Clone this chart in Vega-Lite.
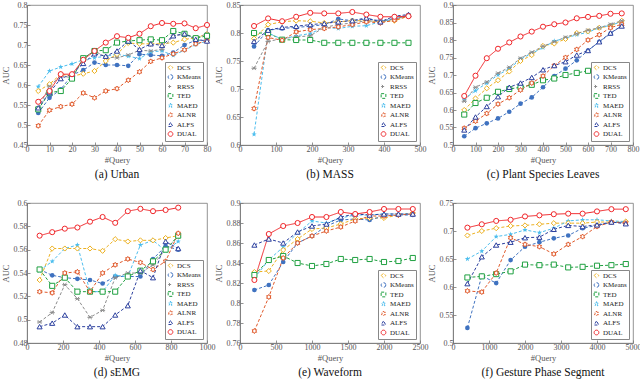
{
  "$schema": "https://vega.github.io/schema/vega-lite/v6.json",
  "padding": {"left": 0, "top": 0, "right": 0, "bottom": 0},
  "background": "white",
  "columns": 3,
  "bounds": "flush",
  "spacing": {"row": 58, "column": 33},
  "datasets": {
    "a": [
      {"m":"DCS","x":5,"y":0.585},{"m":"DCS","x":10,"y":0.602},{"m":"DCS","x":15,"y":0.627},{"m":"DCS","x":20,"y":0.622},{"m":"DCS","x":25,"y":0.628},{"m":"DCS","x":30,"y":0.635},{"m":"DCS","x":35,"y":0.66},{"m":"DCS","x":40,"y":0.677},{"m":"DCS","x":45,"y":0.705},{"m":"DCS","x":50,"y":0.703},{"m":"DCS","x":55,"y":0.703},{"m":"DCS","x":60,"y":0.703},{"m":"DCS","x":65,"y":0.706},{"m":"DCS","x":70,"y":0.714},{"m":"DCS","x":75,"y":0.718},{"m":"DCS","x":80,"y":0.727},
      {"m":"KMeans","x":5,"y":0.53},{"m":"KMeans","x":10,"y":0.568},{"m":"KMeans","x":15,"y":0.589},{"m":"KMeans","x":20,"y":0.625},{"m":"KMeans","x":25,"y":0.637},{"m":"KMeans","x":30,"y":0.656},{"m":"KMeans","x":35,"y":0.65},{"m":"KMeans","x":40,"y":0.65},{"m":"KMeans","x":45,"y":0.648},{"m":"KMeans","x":50,"y":0.677},{"m":"KMeans","x":55,"y":0.675},{"m":"KMeans","x":60,"y":0.673},{"m":"KMeans","x":65,"y":0.681},{"m":"KMeans","x":70,"y":0.7},{"m":"KMeans","x":75,"y":0.712},{"m":"KMeans","x":80,"y":0.712},
      {"m":"RRSS","x":5,"y":0.543},{"m":"RRSS","x":10,"y":0.597},{"m":"RRSS","x":15,"y":0.623},{"m":"RRSS","x":20,"y":0.618},{"m":"RRSS","x":25,"y":0.668},{"m":"RRSS","x":30,"y":0.685},{"m":"RRSS","x":35,"y":0.67},{"m":"RRSS","x":40,"y":0.668},{"m":"RRSS","x":45,"y":0.675},{"m":"RRSS","x":50,"y":0.687},{"m":"RRSS","x":55,"y":0.685},{"m":"RRSS","x":60,"y":0.689},{"m":"RRSS","x":65,"y":0.723},{"m":"RRSS","x":70,"y":0.727},{"m":"RRSS","x":75,"y":0.718},{"m":"RRSS","x":80,"y":0.728},
      {"m":"TED","x":5,"y":0.539},{"m":"TED","x":10,"y":0.581},{"m":"TED","x":15,"y":0.585},{"m":"TED","x":20,"y":0.616},{"m":"TED","x":25,"y":0.667},{"m":"TED","x":30,"y":0.685},{"m":"TED","x":35,"y":0.687},{"m":"TED","x":40,"y":0.706},{"m":"TED","x":45,"y":0.71},{"m":"TED","x":50,"y":0.712},{"m":"TED","x":55,"y":0.714},{"m":"TED","x":60,"y":0.712},{"m":"TED","x":65,"y":0.735},{"m":"TED","x":70,"y":0.728},{"m":"TED","x":75,"y":0.717},{"m":"TED","x":80,"y":0.723},
      {"m":"MAED","x":5,"y":0.596},{"m":"MAED","x":10,"y":0.635},{"m":"MAED","x":15,"y":0.645},{"m":"MAED","x":20,"y":0.653},{"m":"MAED","x":25,"y":0.663},{"m":"MAED","x":30,"y":0.668},{"m":"MAED","x":35,"y":0.672},{"m":"MAED","x":40,"y":0.677},{"m":"MAED","x":45,"y":0.672},{"m":"MAED","x":50,"y":0.666},{"m":"MAED","x":55,"y":0.683},{"m":"MAED","x":60,"y":0.685},{"m":"MAED","x":65,"y":0.674},{"m":"MAED","x":70,"y":0.687},{"m":"MAED","x":75,"y":0.701},{"m":"MAED","x":80,"y":0.71},
      {"m":"ALNR","x":5,"y":0.498},{"m":"ALNR","x":10,"y":0.537},{"m":"ALNR","x":15,"y":0.546},{"m":"ALNR","x":20,"y":0.552},{"m":"ALNR","x":25,"y":0.58},{"m":"ALNR","x":30,"y":0.568},{"m":"ALNR","x":35,"y":0.585},{"m":"ALNR","x":40,"y":0.591},{"m":"ALNR","x":45,"y":0.612},{"m":"ALNR","x":50,"y":0.633},{"m":"ALNR","x":55,"y":0.659},{"m":"ALNR","x":60,"y":0.668},{"m":"ALNR","x":65,"y":0.678},{"m":"ALNR","x":70,"y":0.688},{"m":"ALNR","x":75,"y":0.703},{"m":"ALNR","x":80,"y":0.71},
      {"m":"ALFS","x":5,"y":0.543},{"m":"ALFS","x":10,"y":0.581},{"m":"ALFS","x":15,"y":0.616},{"m":"ALFS","x":20,"y":0.627},{"m":"ALFS","x":25,"y":0.654},{"m":"ALFS","x":30,"y":0.678},{"m":"ALFS","x":35,"y":0.672},{"m":"ALFS","x":40,"y":0.685},{"m":"ALFS","x":45,"y":0.71},{"m":"ALFS","x":50,"y":0.689},{"m":"ALFS","x":55,"y":0.703},{"m":"ALFS","x":60,"y":0.699},{"m":"ALFS","x":65,"y":0.723},{"m":"ALFS","x":70,"y":0.728},{"m":"ALFS","x":75,"y":0.714},{"m":"ALFS","x":80,"y":0.71},
      {"m":"DUAL","x":5,"y":0.558},{"m":"DUAL","x":10,"y":0.585},{"m":"DUAL","x":15,"y":0.627},{"m":"DUAL","x":20,"y":0.627},{"m":"DUAL","x":25,"y":0.663},{"m":"DUAL","x":30,"y":0.685},{"m":"DUAL","x":35,"y":0.706},{"m":"DUAL","x":40,"y":0.722},{"m":"DUAL","x":45,"y":0.718},{"m":"DUAL","x":50,"y":0.728},{"m":"DUAL","x":55,"y":0.747},{"m":"DUAL","x":60,"y":0.755},{"m":"DUAL","x":65,"y":0.753},{"m":"DUAL","x":70,"y":0.754},{"m":"DUAL","x":75,"y":0.742},{"m":"DUAL","x":80,"y":0.75}
    ],
    "b": [
      {"m":"DCS","x":39,"y":0.79},{"m":"DCS","x":78,"y":0.815},{"m":"DCS","x":117,"y":0.82},{"m":"DCS","x":156,"y":0.822},{"m":"DCS","x":195,"y":0.821},{"m":"DCS","x":234,"y":0.818},{"m":"DCS","x":273,"y":0.82},{"m":"DCS","x":312,"y":0.822},{"m":"DCS","x":351,"y":0.822},{"m":"DCS","x":390,"y":0.82},{"m":"DCS","x":429,"y":0.822},{"m":"DCS","x":468,"y":0.83},
      {"m":"KMeans","x":39,"y":0.776},{"m":"KMeans","x":78,"y":0.805},{"m":"KMeans","x":117,"y":0.808},{"m":"KMeans","x":156,"y":0.81},{"m":"KMeans","x":195,"y":0.812},{"m":"KMeans","x":234,"y":0.815},{"m":"KMeans","x":273,"y":0.825},{"m":"KMeans","x":312,"y":0.822},{"m":"KMeans","x":351,"y":0.825},{"m":"KMeans","x":390,"y":0.822},{"m":"KMeans","x":429,"y":0.825},{"m":"KMeans","x":468,"y":0.832},
      {"m":"RRSS","x":39,"y":0.737},{"m":"RRSS","x":78,"y":0.785},{"m":"RRSS","x":117,"y":0.79},{"m":"RRSS","x":156,"y":0.793},{"m":"RRSS","x":195,"y":0.795},{"m":"RRSS","x":234,"y":0.81},{"m":"RRSS","x":273,"y":0.815},{"m":"RRSS","x":312,"y":0.818},{"m":"RRSS","x":351,"y":0.822},{"m":"RRSS","x":390,"y":0.82},{"m":"RRSS","x":429,"y":0.825},{"m":"RRSS","x":468,"y":0.832},
      {"m":"TED","x":39,"y":0.8},{"m":"TED","x":78,"y":0.8},{"m":"TED","x":117,"y":0.788},{"m":"TED","x":156,"y":0.7875},{"m":"TED","x":195,"y":0.7875},{"m":"TED","x":234,"y":0.7825},{"m":"TED","x":273,"y":0.7825},{"m":"TED","x":312,"y":0.7825},{"m":"TED","x":351,"y":0.7825},{"m":"TED","x":390,"y":0.7825},{"m":"TED","x":429,"y":0.7825},{"m":"TED","x":468,"y":0.7825},
      {"m":"MAED","x":39,"y":0.619},{"m":"MAED","x":78,"y":0.8},{"m":"MAED","x":117,"y":0.789},{"m":"MAED","x":156,"y":0.795},{"m":"MAED","x":195,"y":0.799},{"m":"MAED","x":234,"y":0.81},{"m":"MAED","x":273,"y":0.808},{"m":"MAED","x":312,"y":0.812},{"m":"MAED","x":351,"y":0.813},{"m":"MAED","x":390,"y":0.82},{"m":"MAED","x":429,"y":0.825},{"m":"MAED","x":468,"y":0.832},
      {"m":"ALNR","x":39,"y":0.665},{"m":"ALNR","x":78,"y":0.792},{"m":"ALNR","x":117,"y":0.787},{"m":"ALNR","x":156,"y":0.802},{"m":"ALNR","x":195,"y":0.806},{"m":"ALNR","x":234,"y":0.808},{"m":"ALNR","x":273,"y":0.811},{"m":"ALNR","x":312,"y":0.815},{"m":"ALNR","x":351,"y":0.82},{"m":"ALNR","x":390,"y":0.818},{"m":"ALNR","x":429,"y":0.823},{"m":"ALNR","x":468,"y":0.83},
      {"m":"ALFS","x":39,"y":0.785},{"m":"ALFS","x":78,"y":0.805},{"m":"ALFS","x":117,"y":0.81},{"m":"ALFS","x":156,"y":0.812},{"m":"ALFS","x":195,"y":0.815},{"m":"ALFS","x":234,"y":0.817},{"m":"ALFS","x":273,"y":0.82},{"m":"ALFS","x":312,"y":0.822},{"m":"ALFS","x":351,"y":0.827},{"m":"ALFS","x":390,"y":0.82},{"m":"ALFS","x":429,"y":0.83},{"m":"ALFS","x":468,"y":0.833},
      {"m":"DUAL","x":39,"y":0.8125},{"m":"DUAL","x":78,"y":0.826},{"m":"DUAL","x":117,"y":0.821},{"m":"DUAL","x":156,"y":0.829},{"m":"DUAL","x":195,"y":0.836},{"m":"DUAL","x":234,"y":0.835},{"m":"DUAL","x":273,"y":0.835},{"m":"DUAL","x":312,"y":0.8375},{"m":"DUAL","x":351,"y":0.833},{"m":"DUAL","x":390,"y":0.829},{"m":"DUAL","x":429,"y":0.829},{"m":"DUAL","x":468,"y":0.83}
    ],
    "c": [
      {"m":"DCS","x":50,"y":0.6},{"m":"DCS","x":100,"y":0.633},{"m":"DCS","x":150,"y":0.662},{"m":"DCS","x":200,"y":0.685},{"m":"DCS","x":250,"y":0.71},{"m":"DCS","x":300,"y":0.74},{"m":"DCS","x":350,"y":0.757},{"m":"DCS","x":400,"y":0.783},{"m":"DCS","x":450,"y":0.79},{"m":"DCS","x":500,"y":0.803},{"m":"DCS","x":550,"y":0.82},{"m":"DCS","x":600,"y":0.825},{"m":"DCS","x":650,"y":0.835},{"m":"DCS","x":700,"y":0.84},{"m":"DCS","x":750,"y":0.855},
      {"m":"KMeans","x":50,"y":0.525},{"m":"KMeans","x":100,"y":0.548},{"m":"KMeans","x":150,"y":0.562},{"m":"KMeans","x":200,"y":0.576},{"m":"KMeans","x":250,"y":0.595},{"m":"KMeans","x":300,"y":0.618},{"m":"KMeans","x":350,"y":0.636},{"m":"KMeans","x":400,"y":0.665},{"m":"KMeans","x":450,"y":0.697},{"m":"KMeans","x":500,"y":0.718},{"m":"KMeans","x":550,"y":0.742},{"m":"KMeans","x":600,"y":0.77},{"m":"KMeans","x":650,"y":0.795},{"m":"KMeans","x":700,"y":0.818},{"m":"KMeans","x":750,"y":0.842},
      {"m":"RRSS","x":50,"y":0.625},{"m":"RRSS","x":100,"y":0.665},{"m":"RRSS","x":150,"y":0.68},{"m":"RRSS","x":200,"y":0.705},{"m":"RRSS","x":250,"y":0.722},{"m":"RRSS","x":300,"y":0.748},{"m":"RRSS","x":350,"y":0.765},{"m":"RRSS","x":400,"y":0.782},{"m":"RRSS","x":450,"y":0.795},{"m":"RRSS","x":500,"y":0.808},{"m":"RRSS","x":550,"y":0.818},{"m":"RRSS","x":600,"y":0.828},{"m":"RRSS","x":650,"y":0.835},{"m":"RRSS","x":700,"y":0.845},{"m":"RRSS","x":750,"y":0.855},
      {"m":"TED","x":50,"y":0.587},{"m":"TED","x":100,"y":0.62},{"m":"TED","x":150,"y":0.635},{"m":"TED","x":200,"y":0.652},{"m":"TED","x":250,"y":0.66},{"m":"TED","x":300,"y":0.665},{"m":"TED","x":350,"y":0.672},{"m":"TED","x":400,"y":0.685},{"m":"TED","x":450,"y":0.69},{"m":"TED","x":500,"y":0.7},{"m":"TED","x":550,"y":0.706},{"m":"TED","x":600,"y":0.712},{"m":"TED","x":650,"y":0.718},{"m":"TED","x":700,"y":0.723},{"m":"TED","x":750,"y":0.727},
      {"m":"MAED","x":50,"y":0.632},{"m":"MAED","x":100,"y":0.655},{"m":"MAED","x":150,"y":0.677},{"m":"MAED","x":200,"y":0.7},{"m":"MAED","x":250,"y":0.718},{"m":"MAED","x":300,"y":0.745},{"m":"MAED","x":350,"y":0.762},{"m":"MAED","x":400,"y":0.778},{"m":"MAED","x":450,"y":0.797},{"m":"MAED","x":500,"y":0.805},{"m":"MAED","x":550,"y":0.815},{"m":"MAED","x":600,"y":0.822},{"m":"MAED","x":650,"y":0.835},{"m":"MAED","x":700,"y":0.842},{"m":"MAED","x":750,"y":0.852},
      {"m":"ALNR","x":50,"y":0.548},{"m":"ALNR","x":100,"y":0.568},{"m":"ALNR","x":150,"y":0.59},{"m":"ALNR","x":200,"y":0.617},{"m":"ALNR","x":250,"y":0.635},{"m":"ALNR","x":300,"y":0.657},{"m":"ALNR","x":350,"y":0.677},{"m":"ALNR","x":400,"y":0.697},{"m":"ALNR","x":450,"y":0.727},{"m":"ALNR","x":500,"y":0.75},{"m":"ALNR","x":550,"y":0.773},{"m":"ALNR","x":600,"y":0.8},{"m":"ALNR","x":650,"y":0.815},{"m":"ALNR","x":700,"y":0.835},{"m":"ALNR","x":750,"y":0.845},
      {"m":"ALFS","x":50,"y":0.543},{"m":"ALFS","x":100,"y":0.58},{"m":"ALFS","x":150,"y":0.61},{"m":"ALFS","x":200,"y":0.638},{"m":"ALFS","x":250,"y":0.665},{"m":"ALFS","x":300,"y":0.677},{"m":"ALFS","x":350,"y":0.693},{"m":"ALFS","x":400,"y":0.715},{"m":"ALFS","x":450,"y":0.727},{"m":"ALFS","x":500,"y":0.738},{"m":"ALFS","x":550,"y":0.757},{"m":"ALFS","x":600,"y":0.77},{"m":"ALFS","x":650,"y":0.795},{"m":"ALFS","x":700,"y":0.82},{"m":"ALFS","x":750,"y":0.84},
      {"m":"DUAL","x":50,"y":0.64},{"m":"DUAL","x":100,"y":0.698},{"m":"DUAL","x":150,"y":0.748},{"m":"DUAL","x":200,"y":0.775},{"m":"DUAL","x":250,"y":0.793},{"m":"DUAL","x":300,"y":0.81},{"m":"DUAL","x":350,"y":0.824},{"m":"DUAL","x":400,"y":0.838},{"m":"DUAL","x":450,"y":0.845},{"m":"DUAL","x":500,"y":0.85},{"m":"DUAL","x":550,"y":0.862},{"m":"DUAL","x":600,"y":0.866},{"m":"DUAL","x":650,"y":0.869},{"m":"DUAL","x":700,"y":0.875},{"m":"DUAL","x":750,"y":0.876}
    ],
    "d": [
      {"m":"DCS","x":70,"y":0.534},{"m":"DCS","x":140,"y":0.561},{"m":"DCS","x":210,"y":0.561},{"m":"DCS","x":280,"y":0.561},{"m":"DCS","x":350,"y":0.561},{"m":"DCS","x":420,"y":0.559},{"m":"DCS","x":490,"y":0.569},{"m":"DCS","x":560,"y":0.567},{"m":"DCS","x":630,"y":0.568},{"m":"DCS","x":700,"y":0.568},{"m":"DCS","x":770,"y":0.57},{"m":"DCS","x":840,"y":0.572},
      {"m":"KMeans","x":70,"y":0.543},{"m":"KMeans","x":140,"y":0.538},{"m":"KMeans","x":210,"y":0.536},{"m":"KMeans","x":280,"y":0.535},{"m":"KMeans","x":350,"y":0.534},{"m":"KMeans","x":420,"y":0.531},{"m":"KMeans","x":490,"y":0.537},{"m":"KMeans","x":560,"y":0.537},{"m":"KMeans","x":630,"y":0.537},{"m":"KMeans","x":700,"y":0.552},{"m":"KMeans","x":770,"y":0.563},{"m":"KMeans","x":840,"y":0.56},
      {"m":"RRSS","x":70,"y":0.498},{"m":"RRSS","x":140,"y":0.506},{"m":"RRSS","x":210,"y":0.53},{"m":"RRSS","x":280,"y":0.518},{"m":"RRSS","x":350,"y":0.502},{"m":"RRSS","x":420,"y":0.508},{"m":"RRSS","x":490,"y":0.536},{"m":"RRSS","x":560,"y":0.54},{"m":"RRSS","x":630,"y":0.54},{"m":"RRSS","x":700,"y":0.547},{"m":"RRSS","x":770,"y":0.56},{"m":"RRSS","x":840,"y":0.571},
      {"m":"TED","x":70,"y":0.543},{"m":"TED","x":140,"y":0.529},{"m":"TED","x":210,"y":0.536},{"m":"TED","x":280,"y":0.524},{"m":"TED","x":350,"y":0.524},{"m":"TED","x":420,"y":0.524},{"m":"TED","x":490,"y":0.524},{"m":"TED","x":560,"y":0.537},{"m":"TED","x":630,"y":0.542},{"m":"TED","x":700,"y":0.55},{"m":"TED","x":770,"y":0.56},{"m":"TED","x":840,"y":0.572},
      {"m":"MAED","x":70,"y":0.542},{"m":"MAED","x":140,"y":0.55},{"m":"MAED","x":210,"y":0.561},{"m":"MAED","x":280,"y":0.564},{"m":"MAED","x":350,"y":0.524},{"m":"MAED","x":420,"y":0.524},{"m":"MAED","x":490,"y":0.538},{"m":"MAED","x":560,"y":0.537},{"m":"MAED","x":630,"y":0.564},{"m":"MAED","x":700,"y":0.568},{"m":"MAED","x":770,"y":0.559},{"m":"MAED","x":840,"y":0.567},
      {"m":"ALNR","x":70,"y":0.524},{"m":"ALNR","x":140,"y":0.523},{"m":"ALNR","x":210,"y":0.54},{"m":"ALNR","x":280,"y":0.541},{"m":"ALNR","x":350,"y":0.524},{"m":"ALNR","x":420,"y":0.54},{"m":"ALNR","x":490,"y":0.547},{"m":"ALNR","x":560,"y":0.552},{"m":"ALNR","x":630,"y":0.549},{"m":"ALNR","x":700,"y":0.543},{"m":"ALNR","x":770,"y":0.55},{"m":"ALNR","x":840,"y":0.574},
      {"m":"ALFS","x":70,"y":0.494},{"m":"ALFS","x":140,"y":0.497},{"m":"ALFS","x":210,"y":0.504},{"m":"ALFS","x":280,"y":0.494},{"m":"ALFS","x":350,"y":0.494},{"m":"ALFS","x":420,"y":0.494},{"m":"ALFS","x":490,"y":0.504},{"m":"ALFS","x":560,"y":0.512},{"m":"ALFS","x":630,"y":0.542},{"m":"ALFS","x":700,"y":0.536},{"m":"ALFS","x":770,"y":0.567},{"m":"ALFS","x":840,"y":0.561},
      {"m":"DUAL","x":70,"y":0.572},{"m":"DUAL","x":140,"y":0.575},{"m":"DUAL","x":210,"y":0.578},{"m":"DUAL","x":280,"y":0.579},{"m":"DUAL","x":350,"y":0.584},{"m":"DUAL","x":420,"y":0.588},{"m":"DUAL","x":490,"y":0.583},{"m":"DUAL","x":560,"y":0.593},{"m":"DUAL","x":630,"y":0.595},{"m":"DUAL","x":700,"y":0.593},{"m":"DUAL","x":770,"y":0.594},{"m":"DUAL","x":840,"y":0.596}
    ],
    "e": [
      {"m":"DCS","x":200,"y":0.831},{"m":"DCS","x":400,"y":0.832},{"m":"DCS","x":600,"y":0.853},{"m":"DCS","x":800,"y":0.864},{"m":"DCS","x":1000,"y":0.874},{"m":"DCS","x":1200,"y":0.875},{"m":"DCS","x":1400,"y":0.879},{"m":"DCS","x":1600,"y":0.884},{"m":"DCS","x":1800,"y":0.885},{"m":"DCS","x":2000,"y":0.885},{"m":"DCS","x":2200,"y":0.888},{"m":"DCS","x":2400,"y":0.89},
      {"m":"KMeans","x":200,"y":0.813},{"m":"KMeans","x":400,"y":0.818},{"m":"KMeans","x":600,"y":0.841},{"m":"KMeans","x":800,"y":0.86},{"m":"KMeans","x":1000,"y":0.867},{"m":"KMeans","x":1200,"y":0.877},{"m":"KMeans","x":1400,"y":0.883},{"m":"KMeans","x":1600,"y":0.884},{"m":"KMeans","x":1800,"y":0.883},{"m":"KMeans","x":2000,"y":0.887},{"m":"KMeans","x":2200,"y":0.888},{"m":"KMeans","x":2400,"y":0.888},
      {"m":"TED","x":200,"y":0.828},{"m":"TED","x":400,"y":0.843},{"m":"TED","x":600,"y":0.847},{"m":"TED","x":800,"y":0.84},{"m":"TED","x":1000,"y":0.837},{"m":"TED","x":1200,"y":0.839},{"m":"TED","x":1400,"y":0.844},{"m":"TED","x":1600,"y":0.843},{"m":"TED","x":1800,"y":0.844},{"m":"TED","x":2000,"y":0.841},{"m":"TED","x":2200,"y":0.842},{"m":"TED","x":2400,"y":0.845},
      {"m":"MAED","x":200,"y":0.825},{"m":"MAED","x":400,"y":0.843},{"m":"MAED","x":600,"y":0.856},{"m":"MAED","x":800,"y":0.87},{"m":"MAED","x":1000,"y":0.882},{"m":"MAED","x":1200,"y":0.88},{"m":"MAED","x":1400,"y":0.885},{"m":"MAED","x":1600,"y":0.888},{"m":"MAED","x":1800,"y":0.888},{"m":"MAED","x":2000,"y":0.889},{"m":"MAED","x":2200,"y":0.889},{"m":"MAED","x":2400,"y":0.889},
      {"m":"ALNR","x":200,"y":0.772},{"m":"ALNR","x":400,"y":0.806},{"m":"ALNR","x":600,"y":0.845},{"m":"ALNR","x":800,"y":0.86},{"m":"ALNR","x":1000,"y":0.867},{"m":"ALNR","x":1200,"y":0.872},{"m":"ALNR","x":1400,"y":0.876},{"m":"ALNR","x":1600,"y":0.882},{"m":"ALNR","x":1800,"y":0.887},{"m":"ALNR","x":2000,"y":0.887},{"m":"ALNR","x":2200,"y":0.888},{"m":"ALNR","x":2400,"y":0.889},
      {"m":"ALFS","x":200,"y":0.858},{"m":"ALFS","x":400,"y":0.864},{"m":"ALFS","x":600,"y":0.86},{"m":"ALFS","x":800,"y":0.871},{"m":"ALFS","x":1000,"y":0.877},{"m":"ALFS","x":1200,"y":0.879},{"m":"ALFS","x":1400,"y":0.886},{"m":"ALFS","x":1600,"y":0.889},{"m":"ALFS","x":1800,"y":0.888},{"m":"ALFS","x":2000,"y":0.889},{"m":"ALFS","x":2200,"y":0.889},{"m":"ALFS","x":2400,"y":0.889},
      {"m":"DUAL","x":200,"y":0.823},{"m":"DUAL","x":400,"y":0.869},{"m":"DUAL","x":600,"y":0.877},{"m":"DUAL","x":800,"y":0.88},{"m":"DUAL","x":1000,"y":0.886},{"m":"DUAL","x":1200,"y":0.886},{"m":"DUAL","x":1400,"y":0.891},{"m":"DUAL","x":1600,"y":0.889},{"m":"DUAL","x":1800,"y":0.891},{"m":"DUAL","x":2000,"y":0.894},{"m":"DUAL","x":2200,"y":0.894},{"m":"DUAL","x":2400,"y":0.894}
    ],
    "f": [
      {"m":"DCS","x":400,"y":0.692},{"m":"DCS","x":800,"y":0.7},{"m":"DCS","x":1200,"y":0.705},{"m":"DCS","x":1600,"y":0.709},{"m":"DCS","x":2000,"y":0.71},{"m":"DCS","x":2400,"y":0.712},{"m":"DCS","x":2800,"y":0.714},{"m":"DCS","x":3200,"y":0.714},{"m":"DCS","x":3600,"y":0.714},{"m":"DCS","x":4000,"y":0.716},{"m":"DCS","x":4400,"y":0.716},{"m":"DCS","x":4800,"y":0.717},
      {"m":"KMeans","x":400,"y":0.527},{"m":"KMeans","x":800,"y":0.62},{"m":"KMeans","x":1200,"y":0.607},{"m":"KMeans","x":1600,"y":0.648},{"m":"KMeans","x":2000,"y":0.672},{"m":"KMeans","x":2400,"y":0.68},{"m":"KMeans","x":2800,"y":0.687},{"m":"KMeans","x":3200,"y":0.692},{"m":"KMeans","x":3600,"y":0.705},{"m":"KMeans","x":4000,"y":0.71},{"m":"KMeans","x":4400,"y":0.715},{"m":"KMeans","x":4800,"y":0.716},
      {"m":"TED","x":400,"y":0.617},{"m":"TED","x":800,"y":0.619},{"m":"TED","x":1200,"y":0.623},{"m":"TED","x":1600,"y":0.628},{"m":"TED","x":2000,"y":0.64},{"m":"TED","x":2400,"y":0.639},{"m":"TED","x":2800,"y":0.64},{"m":"TED","x":3200,"y":0.635},{"m":"TED","x":3600,"y":0.636},{"m":"TED","x":4000,"y":0.638},{"m":"TED","x":4400,"y":0.639},{"m":"TED","x":4800,"y":0.641},
      {"m":"MAED","x":400,"y":0.65},{"m":"MAED","x":800,"y":0.664},{"m":"MAED","x":1200,"y":0.69},{"m":"MAED","x":1600,"y":0.694},{"m":"MAED","x":2000,"y":0.702},{"m":"MAED","x":2400,"y":0.697},{"m":"MAED","x":2800,"y":0.705},{"m":"MAED","x":3200,"y":0.718},{"m":"MAED","x":3600,"y":0.72},{"m":"MAED","x":4000,"y":0.72},{"m":"MAED","x":4400,"y":0.718},{"m":"MAED","x":4800,"y":0.717},
      {"m":"ALNR","x":400,"y":0.593},{"m":"ALNR","x":800,"y":0.591},{"m":"ALNR","x":1200,"y":0.625},{"m":"ALNR","x":1600,"y":0.688},{"m":"ALNR","x":2000,"y":0.676},{"m":"ALNR","x":2400,"y":0.672},{"m":"ALNR","x":2800,"y":0.659},{"m":"ALNR","x":3200,"y":0.676},{"m":"ALNR","x":3600,"y":0.69},{"m":"ALNR","x":4000,"y":0.708},{"m":"ALNR","x":4400,"y":0.716},{"m":"ALNR","x":4800,"y":0.714},
      {"m":"ALFS","x":400,"y":0.606},{"m":"ALFS","x":800,"y":0.654},{"m":"ALFS","x":1200,"y":0.675},{"m":"ALFS","x":1600,"y":0.68},{"m":"ALFS","x":2000,"y":0.688},{"m":"ALFS","x":2400,"y":0.689},{"m":"ALFS","x":2800,"y":0.703},{"m":"ALFS","x":3200,"y":0.71},{"m":"ALFS","x":3600,"y":0.708},{"m":"ALFS","x":4000,"y":0.711},{"m":"ALFS","x":4400,"y":0.716},{"m":"ALFS","x":4800,"y":0.713},
      {"m":"DUAL","x":400,"y":0.706},{"m":"DUAL","x":800,"y":0.712},{"m":"DUAL","x":1200,"y":0.718},{"m":"DUAL","x":1600,"y":0.72},{"m":"DUAL","x":2000,"y":0.726},{"m":"DUAL","x":2400,"y":0.728},{"m":"DUAL","x":2800,"y":0.73},{"m":"DUAL","x":3200,"y":0.731},{"m":"DUAL","x":3600,"y":0.731},{"m":"DUAL","x":4000,"y":0.735},{"m":"DUAL","x":4400,"y":0.739},{"m":"DUAL","x":4800,"y":0.739}
    ]
  },
  "concat": [
    {
      "width": 180, "height": 140,
      "data": {"name": "a"},
      "title": {"text": "(a) Urban"},
      "encoding": {
        "x": {"field": "x", "type": "quantitative", "title": "#Query", "scale": {"domain": [0, 80], "nice": false}, "axis": {"values": [0,10,20,30,40,50,60,70,80]}},
        "y": {"field": "y", "type": "quantitative", "title": "AUC", "scale": {"domain": [0.45, 0.8], "nice": false, "zero": false}, "axis": {"values": [0.45,0.5,0.55,0.6,0.65,0.7,0.75,0.8]}}
      },
      "layer": [
        {"mark": {"type": "line", "strokeWidth": 1},
         "encoding": {
           "color": {"field": "m", "type": "nominal", "title": null, "legend": {"orient": "bottom-right"}, "scale": {"domain": ["DCS","KMeans","RRSS","TED","MAED","ALNR","ALFS","DUAL"], "range": ["#EDB120","#3F72C0","#8C8C8C","#1FA040","#4DBEEE","#E0592A","#2B3F9E","#F0262A"]}},
           "strokeDash": {"field": "m", "type": "nominal", "legend": null, "scale": {"domain": ["DCS","KMeans","RRSS","TED","MAED","ALNR","ALFS","DUAL"], "range": [[3,2],[3,2],[3,2],[3,2],[3,2],[3,2],[3,2],[1,0]]}}
         }},
        {"transform": [{"filter": {"field": "m", "equal": "KMeans"}}],
         "mark": {"type": "point", "shape": "circle", "filled": true, "size": 22, "opacity": 1, "color": "#3F72C0"}},
        {"transform": [{"filter": {"field": "m", "equal": "MAED"}}],
         "mark": {"type": "point", "shape": "M0,-1L0.235,-0.324L0.951,-0.309L0.38,0.124L0.588,0.809L0,0.4L-0.588,0.809L-0.38,0.124L-0.951,-0.309L-0.235,-0.324Z", "filled": true, "size": 30, "opacity": 1, "color": "#4DBEEE"}},
        {"transform": [{"filter": {"not": {"field": "m", "oneOf": ["KMeans", "MAED"]}}}],
         "mark": {"type": "point", "strokeWidth": 1, "opacity": 1, "size": 26, "filled": false, "fill": "white"},
         "encoding": {
           "color": {"field": "m", "type": "nominal", "title": null, "legend": {"orient": "bottom-right"}},
           "shape": {"field": "m", "type": "nominal", "title": null, "legend": {"orient": "bottom-right"}, "scale": {"domain": ["DCS","KMeans","RRSS","TED","MAED","ALNR","ALFS","DUAL"], "range": ["diamond","circle","M-0.7,-0.7L0.7,0.7M-0.7,0.7L0.7,-0.7M-1,0L1,0","square","M0,-1L0.235,-0.324L0.951,-0.309L0.38,0.124L0.588,0.809L0,0.4L-0.588,0.809L-0.38,0.124L-0.951,-0.309L-0.235,-0.324Z","M0,-1L0.29,-0.5L0.866,-0.5L0.58,0L0.866,0.5L0.29,0.5L0,1L-0.29,0.5L-0.866,0.5L-0.58,0L-0.866,-0.5L-0.29,-0.5Z","triangle-up","circle"]}}
         }}
      ]
    },
    {
      "width": 180, "height": 140,
      "data": {"name": "b"},
      "title": {"text": "(b) MASS"},
      "encoding": {
        "x": {"field": "x", "type": "quantitative", "title": "#Query", "scale": {"domain": [0, 500], "nice": false}, "axis": {"values": [0,100,200,300,400,500]}},
        "y": {"field": "y", "type": "quantitative", "title": "AUC", "scale": {"domain": [0.6, 0.85], "nice": false, "zero": false}, "axis": {"values": [0.6,0.65,0.7,0.75,0.8,0.85]}}
      },
      "layer": [
        {"mark": {"type": "line", "strokeWidth": 1},
         "encoding": {
           "color": {"field": "m", "type": "nominal", "title": null, "legend": {"orient": "bottom-right"}, "scale": {"domain": ["DCS","KMeans","RRSS","TED","MAED","ALNR","ALFS","DUAL"], "range": ["#EDB120","#3F72C0","#8C8C8C","#1FA040","#4DBEEE","#E0592A","#2B3F9E","#F0262A"]}},
           "strokeDash": {"field": "m", "type": "nominal", "legend": null, "scale": {"domain": ["DCS","KMeans","RRSS","TED","MAED","ALNR","ALFS","DUAL"], "range": [[3,2],[3,2],[3,2],[3,2],[3,2],[3,2],[3,2],[1,0]]}}
         }},
        {"transform": [{"filter": {"field": "m", "equal": "KMeans"}}],
         "mark": {"type": "point", "shape": "circle", "filled": true, "size": 22, "opacity": 1, "color": "#3F72C0"}},
        {"transform": [{"filter": {"field": "m", "equal": "MAED"}}],
         "mark": {"type": "point", "shape": "M0,-1L0.235,-0.324L0.951,-0.309L0.38,0.124L0.588,0.809L0,0.4L-0.588,0.809L-0.38,0.124L-0.951,-0.309L-0.235,-0.324Z", "filled": true, "size": 30, "opacity": 1, "color": "#4DBEEE"}},
        {"transform": [{"filter": {"not": {"field": "m", "oneOf": ["KMeans", "MAED"]}}}],
         "mark": {"type": "point", "strokeWidth": 1, "opacity": 1, "size": 26, "filled": false, "fill": "white"},
         "encoding": {
           "color": {"field": "m", "type": "nominal", "title": null, "legend": {"orient": "bottom-right"}},
           "shape": {"field": "m", "type": "nominal", "title": null, "legend": {"orient": "bottom-right"}, "scale": {"domain": ["DCS","KMeans","RRSS","TED","MAED","ALNR","ALFS","DUAL"], "range": ["diamond","circle","M-0.7,-0.7L0.7,0.7M-0.7,0.7L0.7,-0.7M-1,0L1,0","square","M0,-1L0.235,-0.324L0.951,-0.309L0.38,0.124L0.588,0.809L0,0.4L-0.588,0.809L-0.38,0.124L-0.951,-0.309L-0.235,-0.324Z","M0,-1L0.29,-0.5L0.866,-0.5L0.58,0L0.866,0.5L0.29,0.5L0,1L-0.29,0.5L-0.866,0.5L-0.58,0L-0.866,-0.5L-0.29,-0.5Z","triangle-up","circle"]}}
         }}
      ]
    },
    {
      "width": 180, "height": 140,
      "data": {"name": "c"},
      "title": {"text": "(c) Plant Species Leaves"},
      "encoding": {
        "x": {"field": "x", "type": "quantitative", "title": "#Query", "scale": {"domain": [0, 800], "nice": false}, "axis": {"values": [0,100,200,300,400,500,600,700,800]}},
        "y": {"field": "y", "type": "quantitative", "title": "AUC", "scale": {"domain": [0.5, 0.9], "nice": false, "zero": false}, "axis": {"values": [0.5,0.55,0.6,0.65,0.7,0.75,0.8,0.85,0.9]}}
      },
      "layer": [
        {"mark": {"type": "line", "strokeWidth": 1},
         "encoding": {
           "color": {"field": "m", "type": "nominal", "title": null, "legend": {"orient": "bottom-right"}, "scale": {"domain": ["DCS","KMeans","RRSS","TED","MAED","ALNR","ALFS","DUAL"], "range": ["#EDB120","#3F72C0","#8C8C8C","#1FA040","#4DBEEE","#E0592A","#2B3F9E","#F0262A"]}},
           "strokeDash": {"field": "m", "type": "nominal", "legend": null, "scale": {"domain": ["DCS","KMeans","RRSS","TED","MAED","ALNR","ALFS","DUAL"], "range": [[3,2],[3,2],[3,2],[3,2],[3,2],[3,2],[3,2],[1,0]]}}
         }},
        {"transform": [{"filter": {"field": "m", "equal": "KMeans"}}],
         "mark": {"type": "point", "shape": "circle", "filled": true, "size": 22, "opacity": 1, "color": "#3F72C0"}},
        {"transform": [{"filter": {"field": "m", "equal": "MAED"}}],
         "mark": {"type": "point", "shape": "M0,-1L0.235,-0.324L0.951,-0.309L0.38,0.124L0.588,0.809L0,0.4L-0.588,0.809L-0.38,0.124L-0.951,-0.309L-0.235,-0.324Z", "filled": true, "size": 30, "opacity": 1, "color": "#4DBEEE"}},
        {"transform": [{"filter": {"not": {"field": "m", "oneOf": ["KMeans", "MAED"]}}}],
         "mark": {"type": "point", "strokeWidth": 1, "opacity": 1, "size": 26, "filled": false, "fill": "white"},
         "encoding": {
           "color": {"field": "m", "type": "nominal", "title": null, "legend": {"orient": "bottom-right"}},
           "shape": {"field": "m", "type": "nominal", "title": null, "legend": {"orient": "bottom-right"}, "scale": {"domain": ["DCS","KMeans","RRSS","TED","MAED","ALNR","ALFS","DUAL"], "range": ["diamond","circle","M-0.7,-0.7L0.7,0.7M-0.7,0.7L0.7,-0.7M-1,0L1,0","square","M0,-1L0.235,-0.324L0.951,-0.309L0.38,0.124L0.588,0.809L0,0.4L-0.588,0.809L-0.38,0.124L-0.951,-0.309L-0.235,-0.324Z","M0,-1L0.29,-0.5L0.866,-0.5L0.58,0L0.866,0.5L0.29,0.5L0,1L-0.29,0.5L-0.866,0.5L-0.58,0L-0.866,-0.5L-0.29,-0.5Z","triangle-up","circle"]}}
         }}
      ]
    },
    {
      "width": 180, "height": 140,
      "data": {"name": "d"},
      "title": {"text": "(d) sEMG"},
      "encoding": {
        "x": {"field": "x", "type": "quantitative", "title": "#Query", "scale": {"domain": [0, 1000], "nice": false}, "axis": {"values": [0,200,400,600,800,1000]}},
        "y": {"field": "y", "type": "quantitative", "title": "AUC", "scale": {"domain": [0.48, 0.6], "nice": false, "zero": false}, "axis": {"values": [0.48,0.5,0.52,0.54,0.56,0.58,0.6]}}
      },
      "layer": [
        {"mark": {"type": "line", "strokeWidth": 1},
         "encoding": {
           "color": {"field": "m", "type": "nominal", "title": null, "legend": {"orient": "bottom-right"}, "scale": {"domain": ["DCS","KMeans","RRSS","TED","MAED","ALNR","ALFS","DUAL"], "range": ["#EDB120","#3F72C0","#8C8C8C","#1FA040","#4DBEEE","#E0592A","#2B3F9E","#F0262A"]}},
           "strokeDash": {"field": "m", "type": "nominal", "legend": null, "scale": {"domain": ["DCS","KMeans","RRSS","TED","MAED","ALNR","ALFS","DUAL"], "range": [[3,2],[3,2],[3,2],[3,2],[3,2],[3,2],[3,2],[1,0]]}}
         }},
        {"transform": [{"filter": {"field": "m", "equal": "KMeans"}}],
         "mark": {"type": "point", "shape": "circle", "filled": true, "size": 22, "opacity": 1, "color": "#3F72C0"}},
        {"transform": [{"filter": {"field": "m", "equal": "MAED"}}],
         "mark": {"type": "point", "shape": "M0,-1L0.235,-0.324L0.951,-0.309L0.38,0.124L0.588,0.809L0,0.4L-0.588,0.809L-0.38,0.124L-0.951,-0.309L-0.235,-0.324Z", "filled": true, "size": 30, "opacity": 1, "color": "#4DBEEE"}},
        {"transform": [{"filter": {"not": {"field": "m", "oneOf": ["KMeans", "MAED"]}}}],
         "mark": {"type": "point", "strokeWidth": 1, "opacity": 1, "size": 26, "filled": false, "fill": "white"},
         "encoding": {
           "color": {"field": "m", "type": "nominal", "title": null, "legend": {"orient": "bottom-right"}},
           "shape": {"field": "m", "type": "nominal", "title": null, "legend": {"orient": "bottom-right"}, "scale": {"domain": ["DCS","KMeans","RRSS","TED","MAED","ALNR","ALFS","DUAL"], "range": ["diamond","circle","M-0.7,-0.7L0.7,0.7M-0.7,0.7L0.7,-0.7M-1,0L1,0","square","M0,-1L0.235,-0.324L0.951,-0.309L0.38,0.124L0.588,0.809L0,0.4L-0.588,0.809L-0.38,0.124L-0.951,-0.309L-0.235,-0.324Z","M0,-1L0.29,-0.5L0.866,-0.5L0.58,0L0.866,0.5L0.29,0.5L0,1L-0.29,0.5L-0.866,0.5L-0.58,0L-0.866,-0.5L-0.29,-0.5Z","triangle-up","circle"]}}
         }}
      ]
    },
    {
      "width": 180, "height": 140,
      "data": {"name": "e"},
      "title": {"text": "(e) Waveform"},
      "encoding": {
        "x": {"field": "x", "type": "quantitative", "title": "#Query", "scale": {"domain": [0, 2500], "nice": false}, "axis": {"values": [0,500,1000,1500,2000,2500]}},
        "y": {"field": "y", "type": "quantitative", "title": "AUC", "scale": {"domain": [0.76, 0.9], "nice": false, "zero": false}, "axis": {"values": [0.76,0.78,0.8,0.82,0.84,0.86,0.88,0.9]}}
      },
      "layer": [
        {"mark": {"type": "line", "strokeWidth": 1},
         "encoding": {
           "color": {"field": "m", "type": "nominal", "title": null, "legend": {"orient": "bottom-right"}, "scale": {"domain": ["DCS","KMeans","TED","MAED","ALNR","ALFS","DUAL"], "range": ["#EDB120","#3F72C0","#1FA040","#4DBEEE","#E0592A","#2B3F9E","#F0262A"]}},
           "strokeDash": {"field": "m", "type": "nominal", "legend": null, "scale": {"domain": ["DCS","KMeans","TED","MAED","ALNR","ALFS","DUAL"], "range": [[3,2],[3,2],[3,2],[3,2],[3,2],[3,2],[1,0]]}}
         }},
        {"transform": [{"filter": {"field": "m", "equal": "KMeans"}}],
         "mark": {"type": "point", "shape": "circle", "filled": true, "size": 22, "opacity": 1, "color": "#3F72C0"}},
        {"transform": [{"filter": {"field": "m", "equal": "MAED"}}],
         "mark": {"type": "point", "shape": "M0,-1L0.235,-0.324L0.951,-0.309L0.38,0.124L0.588,0.809L0,0.4L-0.588,0.809L-0.38,0.124L-0.951,-0.309L-0.235,-0.324Z", "filled": true, "size": 30, "opacity": 1, "color": "#4DBEEE"}},
        {"transform": [{"filter": {"not": {"field": "m", "oneOf": ["KMeans", "MAED"]}}}],
         "mark": {"type": "point", "strokeWidth": 1, "opacity": 1, "size": 26, "filled": false, "fill": "white"},
         "encoding": {
           "color": {"field": "m", "type": "nominal", "title": null, "legend": {"orient": "bottom-right"}},
           "shape": {"field": "m", "type": "nominal", "title": null, "legend": {"orient": "bottom-right"}, "scale": {"domain": ["DCS","KMeans","TED","MAED","ALNR","ALFS","DUAL"], "range": ["diamond","circle","square","M0,-1L0.235,-0.324L0.951,-0.309L0.38,0.124L0.588,0.809L0,0.4L-0.588,0.809L-0.38,0.124L-0.951,-0.309L-0.235,-0.324Z","M0,-1L0.29,-0.5L0.866,-0.5L0.58,0L0.866,0.5L0.29,0.5L0,1L-0.29,0.5L-0.866,0.5L-0.58,0L-0.866,-0.5L-0.29,-0.5Z","triangle-up","circle"]}}
         }}
      ]
    },
    {
      "width": 180, "height": 140,
      "data": {"name": "f"},
      "title": {"text": "(f) Gesture Phase Segment"},
      "encoding": {
        "x": {"field": "x", "type": "quantitative", "title": "#Query", "scale": {"domain": [0, 5000], "nice": false}, "axis": {"values": [0,1000,2000,3000,4000,5000]}},
        "y": {"field": "y", "type": "quantitative", "title": "AUC", "scale": {"domain": [0.5, 0.75], "nice": false, "zero": false}, "axis": {"values": [0.5,0.55,0.6,0.65,0.7,0.75]}}
      },
      "layer": [
        {"mark": {"type": "line", "strokeWidth": 1},
         "encoding": {
           "color": {"field": "m", "type": "nominal", "title": null, "legend": {"orient": "bottom-right"}, "scale": {"domain": ["DCS","KMeans","TED","MAED","ALNR","ALFS","DUAL"], "range": ["#EDB120","#3F72C0","#1FA040","#4DBEEE","#E0592A","#2B3F9E","#F0262A"]}},
           "strokeDash": {"field": "m", "type": "nominal", "legend": null, "scale": {"domain": ["DCS","KMeans","TED","MAED","ALNR","ALFS","DUAL"], "range": [[3,2],[3,2],[3,2],[3,2],[3,2],[3,2],[1,0]]}}
         }},
        {"transform": [{"filter": {"field": "m", "equal": "KMeans"}}],
         "mark": {"type": "point", "shape": "circle", "filled": true, "size": 22, "opacity": 1, "color": "#3F72C0"}},
        {"transform": [{"filter": {"field": "m", "equal": "MAED"}}],
         "mark": {"type": "point", "shape": "M0,-1L0.235,-0.324L0.951,-0.309L0.38,0.124L0.588,0.809L0,0.4L-0.588,0.809L-0.38,0.124L-0.951,-0.309L-0.235,-0.324Z", "filled": true, "size": 30, "opacity": 1, "color": "#4DBEEE"}},
        {"transform": [{"filter": {"not": {"field": "m", "oneOf": ["KMeans", "MAED"]}}}],
         "mark": {"type": "point", "strokeWidth": 1, "opacity": 1, "size": 26, "filled": false, "fill": "white"},
         "encoding": {
           "color": {"field": "m", "type": "nominal", "title": null, "legend": {"orient": "bottom-right"}},
           "shape": {"field": "m", "type": "nominal", "title": null, "legend": {"orient": "bottom-right"}, "scale": {"domain": ["DCS","KMeans","TED","MAED","ALNR","ALFS","DUAL"], "range": ["diamond","circle","square","M0,-1L0.235,-0.324L0.951,-0.309L0.38,0.124L0.588,0.809L0,0.4L-0.588,0.809L-0.38,0.124L-0.951,-0.309L-0.235,-0.324Z","M0,-1L0.29,-0.5L0.866,-0.5L0.58,0L0.866,0.5L0.29,0.5L0,1L-0.29,0.5L-0.866,0.5L-0.58,0L-0.866,-0.5L-0.29,-0.5Z","triangle-up","circle"]}}
         }}
      ]
    }
  ],
  "resolve": {
    "scale": {"x": "independent", "y": "independent", "color": "independent", "shape": "independent", "strokeDash": "independent"},
    "legend": {"color": "independent", "shape": "independent", "strokeDash": "independent"}
  },
  "config": {
    "font": "Liberation Serif",
    "view": {"stroke": "#777", "strokeWidth": 0.8},
    "title": {"orient": "bottom", "font": "Liberation Serif", "fontSize": 11.5, "fontWeight": "normal", "color": "#111", "offset": 5, "anchor": "middle"},
    "axis": {"labelFont": "Liberation Serif", "labelFontSize": 8, "labelColor": "#555", "titleFont": "Liberation Serif", "titleFontSize": 8.5, "titleFontWeight": "normal", "titleColor": "#555", "domainColor": "#777", "tickColor": "#777", "domainWidth": 0.8, "tickWidth": 0.8, "tickSize": -3, "labelPadding": 3, "grid": false, "labelFlush": false, "labelOverlap": false, "titlePadding": 2},
    "axisX": {"format": "d"},
    "axisY": {"format": "~g", "minExtent": 15, "maxExtent": 15},
    "legend": {"offset": 4, "strokeColor": "#888", "fillColor": "white", "padding": 2, "labelFont": "Liberation Serif", "labelFontSize": 7, "labelColor": "#222", "symbolSize": 22, "symbolStrokeWidth": 1, "rowPadding": 0.5, "labelOffset": 3, "cornerRadius": 0}
  }
}
